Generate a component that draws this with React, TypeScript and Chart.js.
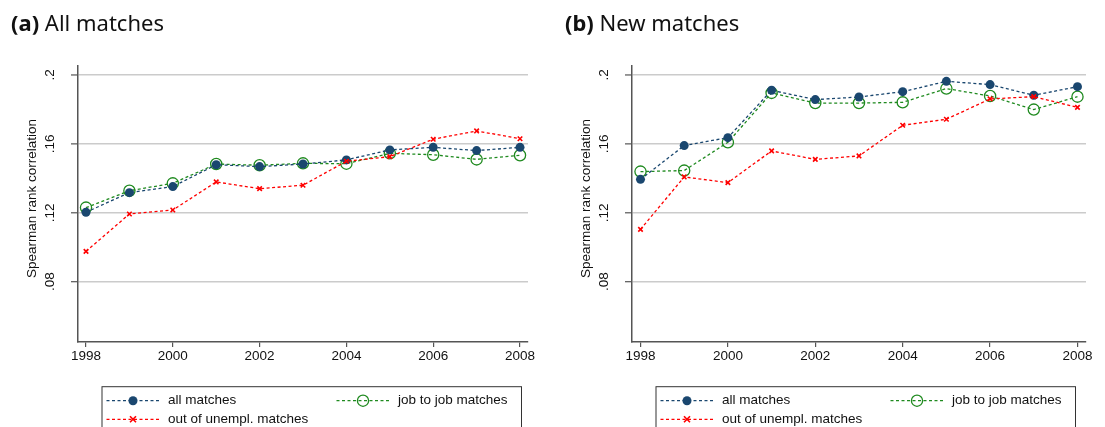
import React, { useEffect, useRef } from "react";
import { Chart, registerables } from "chart.js";

Chart.register(...registerables);

// ---------- data ----------
const years = [1998, 1999, 2000, 2001, 2002, 2003, 2004, 2005, 2006, 2007, 2008];

// (a) All matches
const allMatchesA = [0.1203, 0.1317, 0.1352, 0.1479, 0.1468, 0.1483, 0.1507, 0.1565, 0.158, 0.1561, 0.158];
const jobToJobA = [0.123, 0.1328, 0.1371, 0.1483, 0.1476, 0.1487, 0.1485, 0.1545, 0.1537, 0.151, 0.1534];
const outOfUnemplA = [0.0976, 0.1193, 0.1216, 0.1379, 0.134, 0.136, 0.1499, 0.1526, 0.1627, 0.1675, 0.163];

// (b) New matches
const allMatchesB = [0.1394, 0.159, 0.1636, 0.1911, 0.1857, 0.1872, 0.1903, 0.1963, 0.1944, 0.1882, 0.1932];
const jobToJobB = [0.1439, 0.1445, 0.1609, 0.1896, 0.1837, 0.1837, 0.1841, 0.1921, 0.1878, 0.1799, 0.1874];
const outOfUnemplB = [0.1104, 0.1408, 0.1375, 0.1559, 0.151, 0.153, 0.1708, 0.1743, 0.1861, 0.1874, 0.1812];

const xTickValues = [1998, 2000, 2002, 2004, 2006, 2008];
const yTickValues = [0.08, 0.12, 0.16, 0.2];
const yTickLabels = [".08", ".12", ".16", ".2"];
const seriesNames = ["all matches", "job to job matches", "out of unempl. matches"];
const yAxisTitle = "Spearman rank correlation";
const panelLetters = ["(a)", "(b)"];
const panelNames = ["All matches", "New matches"];

// ---------- styles ----------
const NAVY = "#1a476f";
const GREEN = "#1f8a1f";
const RED = "#ff0000";
const AXIS = "#555555";
const GRID = "#cbcbcb";
const SANS = "'Liberation Sans', Arial, sans-serif";
const DASH = [3, 2.5];

type PanelSpec = {
  left: number;
  width: number;
  axisX: number;
  rightX: number;
  xMin: number;
  xMax: number;
  titleX: number;
  all: number[];
  job: number[];
  unemp: number[];
  letter: string;
  name: string;
};

const H = 427;
const TOP = 66;
const BOTTOM = 342;
const Y_MIN = 0.045;
const Y_MAX = 0.2052;

const panels: PanelSpec[] = [
  {
    left: 0, width: 552, axisX: 77.5, rightX: 528, xMin: 1997.804, xMax: 2008.184, titleX: 11,
    all: allMatchesA, job: jobToJobA, unemp: outOfUnemplA,
    letter: panelLetters[0], name: panelNames[0],
  },
  {
    left: 552, width: 553, axisX: 79.5, rightX: 534, xMin: 1997.794, xMax: 2008.195, titleX: 13,
    all: allMatchesB, job: jobToJobB, unemp: outOfUnemplB,
    letter: panelLetters[1], name: panelNames[1],
  },
];

function drawMarker(ctx: CanvasRenderingContext2D, kind: number, x: number, y: number) {
  ctx.save();
  ctx.setLineDash([]);
  if (kind === 0) {
    ctx.fillStyle = NAVY;
    ctx.beginPath();
    ctx.arc(x, y, 4.5, 0, Math.PI * 2);
    ctx.fill();
  } else if (kind === 1) {
    ctx.strokeStyle = GREEN;
    ctx.lineWidth = 1.3;
    ctx.beginPath();
    ctx.arc(x, y, 5.6, 0, Math.PI * 2);
    ctx.stroke();
  } else {
    ctx.strokeStyle = RED;
    ctx.lineWidth = 1.6;
    const r = 3;
    ctx.beginPath();
    ctx.moveTo(x - r, y - r);
    ctx.lineTo(x + r, y + r);
    ctx.moveTo(x + r, y - r);
    ctx.lineTo(x - r, y + r);
    ctx.stroke();
  }
  ctx.restore();
}

const decorPlugin = {
  id: "decor",
  afterDraw(chart: any) {
    const ctx: CanvasRenderingContext2D = chart.ctx;
    const yScale = chart.scales.y;
    const area = chart.chartArea;
    const axisX = area.left;
    ctx.save();
    // y tick marks and rotated labels
    yTickValues.forEach((v, i) => {
      const py = yScale.getPixelForValue(v);
      ctx.strokeStyle = AXIS;
      ctx.lineWidth = 1.2;
      ctx.beginPath();
      ctx.moveTo(axisX - 6.5, py);
      ctx.lineTo(axisX, py);
      ctx.stroke();
      ctx.save();
      ctx.translate(axisX - 27.5, py);
      ctx.rotate(-Math.PI / 2);
      ctx.fillStyle = "#111";
      ctx.font = `13.5px ${SANS}`;
      ctx.textAlign = "center";
      ctx.textBaseline = "middle";
      ctx.fillText(yTickLabels[i], 0, 0);
      ctx.restore();
    });
    // y axis title
    ctx.save();
    ctx.translate(axisX - 45, 198.5);
    ctx.rotate(-Math.PI / 2);
    ctx.fillStyle = "#111";
    ctx.font = `13.5px ${SANS}`;
    ctx.textAlign = "center";
    ctx.textBaseline = "middle";
    ctx.fillText(yAxisTitle, 0, 0);
    ctx.restore();

    // legend
    const bx = axisX + 24.5;
    const bw = 419.5;
    const by = 386.7;
    ctx.strokeStyle = "#333";
    ctx.lineWidth = 1;
    ctx.strokeRect(bx, by, bw, 60);
    const rows = [400.7, 419.3];
    const entries = [
      { kind: 0, x: bx + 4.5, row: 0, color: NAVY },
      { kind: 1, x: bx + 234.5, row: 0, color: GREEN },
      { kind: 2, x: bx + 4.5, row: 1, color: RED },
    ];
    entries.forEach((e) => {
      const y = rows[e.row];
      ctx.save();
      ctx.strokeStyle = e.color;
      ctx.lineWidth = 1.2;
      ctx.setLineDash(DASH);
      ctx.beginPath();
      ctx.moveTo(e.x, y);
      ctx.lineTo(e.x + 52.5, y);
      ctx.stroke();
      ctx.restore();
      drawMarker(ctx, e.kind, e.x + 26.5, y);
      ctx.fillStyle = "#111";
      ctx.font = `13.5px ${SANS}`;
      ctx.textAlign = "left";
      ctx.textBaseline = "middle";
      ctx.fillText(seriesNames[e.kind], e.x + 61.5, y);
    });
    ctx.restore();
  },
};

function Panel({ spec }: { spec: PanelSpec }) {
  const ref = useRef<HTMLCanvasElement | null>(null);
  useEffect(() => {
    if (!ref.current) return;
    const mk = (vals: number[]) => years.map((x, i) => ({ x, y: vals[i] }));
    const chart = new Chart(ref.current, {
      type: "line",
      data: {
        datasets: [
          {
            label: seriesNames[0],
            data: mk(spec.all),
            borderColor: NAVY,
            backgroundColor: NAVY,
            borderWidth: 1.3,
            borderDash: DASH,
            pointStyle: "circle",
            pointRadius: 4.5,
            pointBorderWidth: 0,
            pointBackgroundColor: NAVY,
            order: 1,
          },
          {
            label: seriesNames[1],
            data: mk(spec.job),
            borderColor: GREEN,
            backgroundColor: "rgba(0,0,0,0)",
            borderWidth: 1.3,
            borderDash: DASH,
            pointStyle: "circle",
            pointRadius: 5.6,
            pointBorderWidth: 1.3,
            pointBorderColor: GREEN,
            pointBackgroundColor: "rgba(0,0,0,0)",
            order: 2,
          },
          {
            label: seriesNames[2],
            data: mk(spec.unemp),
            borderColor: RED,
            backgroundColor: RED,
            borderWidth: 1.3,
            borderDash: DASH,
            pointStyle: "crossRot",
            pointRadius: 3.2,
            pointBorderWidth: 1.6,
            pointBorderColor: RED,
            order: 0,
          },
        ],
      },
      options: {
        responsive: false,
        animation: false,
        events: [],
        layout: {
          padding: { left: 0, top: TOP, right: spec.width - spec.rightX, bottom: H - BOTTOM - 30 },
        },
        plugins: {
          legend: { display: false },
          tooltip: { enabled: false },
          title: { display: false },
        },
        scales: {
          x: {
            type: "linear",
            min: spec.xMin,
            max: spec.xMax,
            afterBuildTicks: (s: any) => {
              s.ticks = xTickValues.map((v) => ({ value: v }));
            },
            afterFit: (s: any) => {
              s.height = 30;
            },
            grid: {
              display: true,
              drawOnChartArea: false,
              drawTicks: true,
              tickLength: 5,
              color: AXIS,
              lineWidth: 1.2,
            },
            border: { display: true, color: AXIS, width: 1.5 },
            ticks: {
              autoSkip: false,
              maxRotation: 0,
              minRotation: 0,
              padding: 1,
              color: "#111",
              font: { family: SANS, size: 13.5 },
              callback: (v: any) => String(v),
            },
          },
          y: {
            type: "linear",
            min: Y_MIN,
            max: Y_MAX,
            afterBuildTicks: (s: any) => {
              s.ticks = yTickValues.map((v) => ({ value: v }));
            },
            afterFit: (s: any) => {
              s.width = spec.axisX;
            },
            grid: {
              display: true,
              drawOnChartArea: true,
              drawTicks: false,
              color: GRID,
              lineWidth: 1.5,
            },
            border: { display: true, color: AXIS, width: 1.5 },
            ticks: { display: false },
          },
        },
      },
      plugins: [decorPlugin],
    } as any);
    return () => chart.destroy();
  }, [spec]);

  return (
    <div style={{ position: "absolute", left: spec.left, top: 0, width: spec.width, height: H }}>
      <canvas ref={ref} width={spec.width} height={H} style={{ position: "absolute", left: 0, top: 0 }} />
      <div
        style={{
          position: "absolute",
          left: spec.titleX,
          top: 8,
          fontFamily: "'Noto Sans', sans-serif",
          fontSize: 22,
          lineHeight: "28px",
          color: "#111",
          whiteSpace: "nowrap",
        }}
      >
        <b>{spec.letter}</b> {spec.name}
      </div>
    </div>
  );
}

export default function App() {
  return (
    <div style={{ position: "absolute", left: 0, top: 0, width: 1105, height: H, background: "#fff", overflow: "hidden" }}>
      {panels.map((p, i) => (
        <Panel key={i} spec={p} />
      ))}
    </div>
  );
}
